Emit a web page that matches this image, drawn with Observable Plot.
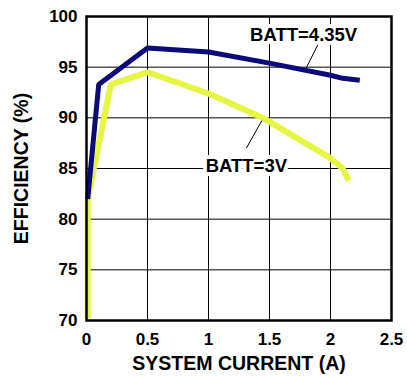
<!DOCTYPE html>
<html>
<head>
<meta charset="utf-8">
<script src="https://cdn.jsdelivr.net/npm/d3@7"></script>
<script src="https://cdn.jsdelivr.net/npm/@observablehq/plot@0.6"></script>
<style>
  html, body { margin: 0; padding: 0; background: #fff; }
  svg { font-family: "Liberation Sans", Arial, sans-serif; font-weight: bold; }
</style>
</head>
<body>
<div id="chart"></div>
<script>
const xTicks = [0, 0.5, 1, 1.5, 2, 2.5];
const xTickLabels = ["0", "0.5", "1", "1.5", "2", "2.5"];
const yTicks = [70, 75, 80, 85, 90, 95, 100];

const batt435Current = [0.01, 0.1, 0.5, 1.0, 1.5, 2.0, 2.1, 2.24];
const batt435Eff     = [82.0, 93.3, 96.9, 96.5, 95.4, 94.2, 93.9, 93.7];

const batt3Current = [0.01, 0.01, 0.2, 0.5, 1.0, 1.46, 1.99, 2.1, 2.15];
const batt3Eff     = [70.2, 82.0, 93.3, 94.5, 92.4, 89.9, 86.1, 85.0, 83.8];

const labels = [
  {text: "BATT=4.35V", x: 1.78, y: 98.2},
  {text: "BATT=3V", x: 1.31, y: 85.2}
];
const leaders = [
  {x1: 1.90, y1: 97.3, x2: 1.80, y2: 94.9},
  {x1: 1.31, y1: 87.0, x2: 1.45, y2: 90.0}
];

const s435 = batt435Current.map((x, i) => ({x, y: batt435Eff[i]}));
const s3 = batt3Current.map((x, i) => ({x, y: batt3Eff[i]}));

const chart = Plot.plot({
  width: 407,
  height: 377,
  marginLeft: 86,
  marginRight: 16,
  marginTop: 16,
  marginBottom: 57,
  style: {fontFamily: "Liberation Sans, Arial, sans-serif", fontWeight: "bold", fontSize: "17px", color: "#000", background: "#fff"},
  x: {domain: [0, 2.5], ticks: xTicks, tickFormat: (d, i) => xTickLabels[i], tickSize: 0, tickPadding: 12, label: null},
  y: {domain: [70, 100], ticks: yTicks, tickSize: 0, tickPadding: 9, label: null},
  marks: [
    Plot.gridX(xTicks, {stroke: "#000", strokeOpacity: 1, strokeWidth: 1}),
    Plot.gridY(yTicks, {stroke: "#000", strokeOpacity: 1, strokeWidth: 1}),
    Plot.link(leaders, {x1: "x1", y1: "y1", x2: "x2", y2: "y2", stroke: "#000", strokeWidth: 1}),
    Plot.line(s3, {x: "x", y: "y", stroke: "#e6f542", strokeWidth: 6, strokeLinejoin: "miter", strokeLinecap: "butt"}),
    Plot.line(s435, {x: "x", y: "y", stroke: "#0a0a7a", strokeWidth: 5, strokeLinejoin: "miter", strokeLinecap: "butt"}),
    Plot.text(labels, {x: "x", y: "y", text: "text", fontSize: 18.5, fontWeight: "bold", fill: "#000", stroke: "#fff", strokeWidth: 8, paintOrder: "stroke"}),
    Plot.frame({stroke: "#000", strokeWidth: 2.5}),
    Plot.text(["SYSTEM CURRENT (A)"], {frameAnchor: "bottom", dy: 49, fontSize: 19.5, fontWeight: "bold", fill: "#000"}),
    Plot.text(["EFFICIENCY (%)"], {frameAnchor: "left", textAnchor: "middle", dx: -65, rotate: -90, fontSize: 19.5, fontWeight: "bold", fill: "#000"})
  ]
});
document.getElementById("chart").appendChild(chart);
</script>
</body>
</html>
